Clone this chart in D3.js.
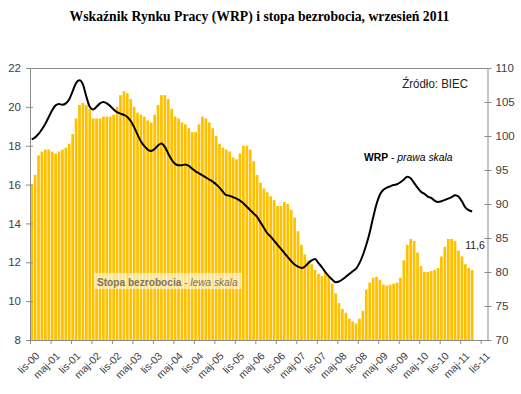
<!DOCTYPE html>
<html>
<head>
<meta charset="utf-8">
<script src="https://cdn.jsdelivr.net/npm/d3@7"></script>
<style>
  html, body { margin: 0; padding: 0; background: #fff; }
  svg { display: block; }
</style>
</head>
<body>
<div id="chart"></div>
<script>
// ---- Data (Nov 2000 .. Aug 2011, monthly) ----
const monthNames = ["sty","lut","mar","kwi","maj","cze","lip","sie","wrz","paź","lis","gru"];
const startYear = 2000, startMonthIdx = 10; // listopad 2000
const categoryCount = 134; // axis runs through Dec 2011

// Stopa bezrobocia (%) - lewa skala
const unemployment = [
  16.0, 16.5,
  17.5, 17.7, 17.8, 17.8, 17.7, 17.6, 17.7, 17.8, 17.9, 18.1, 18.6, 19.4,
  20.1, 20.2, 20.1, 19.9, 19.4, 19.4, 19.4, 19.5, 19.5, 19.5, 19.6, 20.0,
  20.6, 20.8, 20.7, 20.4, 20.0, 19.7, 19.6, 19.5, 19.3, 19.2, 19.6, 20.1,
  20.6, 20.6, 20.4, 19.9, 19.5, 19.4, 19.2, 19.1, 18.9, 18.7, 18.7, 19.1,
  19.5, 19.4, 19.2, 18.9, 18.5, 18.1, 17.9, 17.8, 17.7, 17.4, 17.3, 17.6,
  18.0, 18.0, 17.8, 17.2, 16.5, 16.1, 15.8, 15.6, 15.4, 15.2, 14.9, 14.9,
  15.1, 15.0, 14.7, 14.3, 13.6, 12.9, 12.4, 12.1, 11.9, 11.6, 11.4, 11.3,
  11.5, 11.3, 10.9, 10.4, 9.9, 9.6, 9.4, 9.1, 8.95, 8.85, 9.1, 9.5,
  10.6, 10.95, 11.2, 11.25, 11.1, 10.85, 10.8, 10.85, 10.9, 10.95, 11.2, 12.1,
  12.9, 13.2, 13.1, 12.5, 11.8, 11.5, 11.5, 11.55, 11.6, 11.7, 12.3, 12.8,
  13.2, 13.2, 13.1, 12.6, 12.3, 11.9, 11.7, 11.6
];

// Wskaźnik Rynku Pracy - prawa skala
const wrp = [
  99.5, 99.8,
  100.3, 101.0, 101.8, 102.8, 103.8, 104.5, 104.7, 104.6, 104.8, 105.4, 106.6, 107.8,
  108.2, 107.6, 105.8, 104.3, 103.9, 104.3, 104.8, 105.0, 104.8, 104.4, 103.9, 103.5,
  103.3, 103.1, 102.8, 102.2, 101.3, 100.2, 99.2, 98.5, 98.0, 97.8, 98.1, 98.6,
  98.9, 98.4, 97.4, 96.5, 95.9, 95.7, 95.7, 95.8, 95.6, 95.2, 94.8, 94.5,
  94.2, 93.9, 93.6, 93.3, 92.9, 92.4, 91.8, 91.3, 91.2, 91.0, 90.8, 90.5,
  90.1, 89.6, 89.1, 88.6, 88.1, 87.3, 86.5, 85.7, 85.2, 84.6, 84.0, 83.4,
  82.8, 82.2, 81.6, 81.1, 80.8, 80.6, 80.8, 81.3, 81.7, 81.9, 81.3, 80.7,
  80.0, 79.4, 78.9, 78.5, 78.6, 78.9, 79.3, 79.7, 80.1, 80.5, 81.3, 82.5,
  84.0, 85.8, 88.0, 90.0, 91.4, 92.1, 92.4, 92.6, 92.8, 92.9, 93.2, 93.6,
  94.0, 93.8, 93.1, 92.4, 91.8, 91.5, 91.1, 90.9, 90.5, 90.3, 90.4, 90.6,
  90.8, 91.0, 91.3, 91.1, 90.4, 89.5, 89.1, 88.9
];

const leftTicks = [8, 10, 12, 14, 16, 18, 20, 22];
const rightTicks = [70, 75, 80, 85, 90, 95, 100, 105, 110];
const xTickLabels = ["lis-00","maj-01","lis-01","maj-02","lis-02","maj-03","lis-03","maj-04",
  "lis-04","maj-05","lis-05","maj-06","lis-06","maj-07","lis-07","maj-08","lis-08","maj-09",
  "lis-09","maj-10","lis-10","maj-11","lis-11"];
const lastLabel = "11,6";

const titleText = "Wskaźnik Rynku Pracy (WRP) i stopa bezrobocia, wrzesień 2011";

// categories
const categories = d3.range(categoryCount).map(i => {
  const m = (startMonthIdx + i) % 12;
  const y = startYear + Math.floor((startMonthIdx + i) / 12);
  return monthNames[m] + "-" + String(y).slice(2);
});

// ---- Layout ----
const W = 521, H = 394;
const plot = { left: 30, right: 487.5, top: 68, bottom: 340 };

const svg = d3.select("#chart").append("svg")
  .attr("width", W).attr("height", H)
  .style("font-family", "'Liberation Sans', Arial, sans-serif");

svg.append("rect").attr("width", W).attr("height", H).attr("fill", "#fff");

const xBand = d3.scaleBand().domain(categories).range([plot.left, plot.right]).padding(0);
const xIdx = d3.scaleLinear().domain([0, categoryCount]).range([plot.left, plot.right]);
const yL = d3.scaleLinear().domain([8, 22]).range([plot.bottom, plot.top]);
const yR = d3.scaleLinear().domain([70, 110]).range([plot.bottom, plot.top]);

// top border
svg.append("line")
  .attr("x1", plot.left).attr("x2", plot.right)
  .attr("y1", plot.top + 0.5).attr("y2", plot.top + 0.5)
  .attr("stroke", "#8c8c8c").attr("stroke-width", 1);

// bars
const bw = xBand.bandwidth();
svg.append("g").selectAll("rect")
  .data(unemployment)
  .join("rect")
  .attr("x", (d, i) => xBand(categories[i]) + 0.35)
  .attr("width", bw - 0.7)
  .attr("y", d => yL(d))
  .attr("height", d => yL(8) - yL(d))
  .attr("fill", "#FFC000");

// WRP line
const line = d3.line()
  .x((d, i) => xBand(categories[i]) + bw / 2)
  .y(d => yR(d))
  .curve(d3.curveMonotoneX);
svg.append("path")
  .datum(wrp)
  .attr("d", line)
  .attr("fill", "none")
  .attr("stroke", "#000")
  .attr("stroke-width", 2)
  .attr("stroke-linejoin", "round");

// Axes
const tickFont = "'Liberation Sans', Arial, sans-serif";

const leftAxis = svg.append("g")
  .attr("transform", `translate(${plot.left},0)`)
  .call(d3.axisLeft(yL).tickValues(leftTicks).tickSize(4).tickPadding(5).tickSizeOuter(0));
const rightAxis = svg.append("g")
  .attr("transform", `translate(${plot.right},0)`)
  .call(d3.axisRight(yR).tickValues(rightTicks).tickSize(4).tickPadding(4).tickSizeOuter(0));
const bottomAxis = svg.append("g")
  .attr("transform", `translate(0,${plot.bottom})`)
  .call(d3.axisBottom(xIdx)
    .tickValues(d3.range(0, categoryCount, 6))
    .tickFormat((d, i) => xTickLabels[i])
    .tickSize(4).tickSizeOuter(0));

[leftAxis, rightAxis, bottomAxis].forEach(g => {
  g.select(".domain").attr("stroke", "#8c8c8c");
  g.selectAll(".tick line").attr("stroke", "#8c8c8c");
  g.selectAll(".tick text")
    .attr("fill", "#404040")
    .style("font-family", tickFont)
    .style("font-size", "11.5px");
});
rightAxis.selectAll(".tick line").attr("x1", -3);
leftAxis.selectAll(".tick line").attr("x1", 3).attr("x2", -4);

bottomAxis.selectAll(".tick text")
  .style("font-size", "10.5px")
  .attr("text-anchor", "end")
  .attr("dy", "0.35em")
  .attr("transform", "translate(2,9) rotate(-45)");

// Title
svg.append("text")
  .attr("x", 259.5).attr("y", 21)
  .attr("text-anchor", "middle")
  .style("font-family", "'Liberation Serif', 'Times New Roman', serif")
  .style("font-weight", "bold")
  .style("font-size", "13.7px")
  .attr("fill", "#000")
  .text(titleText);

// Source
svg.append("text")
  .attr("transform", "translate(468,88) scale(0.92,1)")
  .attr("text-anchor", "end")
  .style("font-size", "12.5px")
  .attr("fill", "#222")
  .text("Źródło: BIEC");

// WRP label
const wrpLab = svg.append("text")
  .attr("transform", "translate(364,161) scale(0.9,1)")
  .style("font-size", "11.5px")
  .attr("fill", "#000");
wrpLab.append("tspan").style("font-weight", "bold").text("WRP");
wrpLab.append("tspan").text(" - ");
wrpLab.append("tspan").style("font-style", "italic").text("prawa skala");

// Stopa label box
svg.append("rect")
  .attr("x", 94).attr("y", 273)
  .attr("width", 148).attr("height", 16)
  .attr("fill", "#fff")
  .attr("fill-opacity", 0.55);
const sLab = svg.append("text")
  .attr("transform", "translate(97,285.5) scale(0.88,1)")
  .style("font-size", "11.5px")
  .attr("fill", "#7a7560");
sLab.append("tspan").style("font-weight", "bold").text("Stopa bezrobocia");
sLab.append("tspan").text(" - ");
sLab.append("tspan").style("font-style", "italic").text("lewa skala");

// last value label
const lastI = unemployment.length - 1;
svg.append("text")
  .attr("x", xBand(categories[lastI]) + bw / 2 + 3)
  .attr("y", yL(unemployment[lastI]) - 21)
  .attr("text-anchor", "middle")
  .style("font-family", tickFont)
  .style("font-size", "10.5px")
  .attr("fill", "#222")
  .text(lastLabel);
</script>
</body>
</html>
